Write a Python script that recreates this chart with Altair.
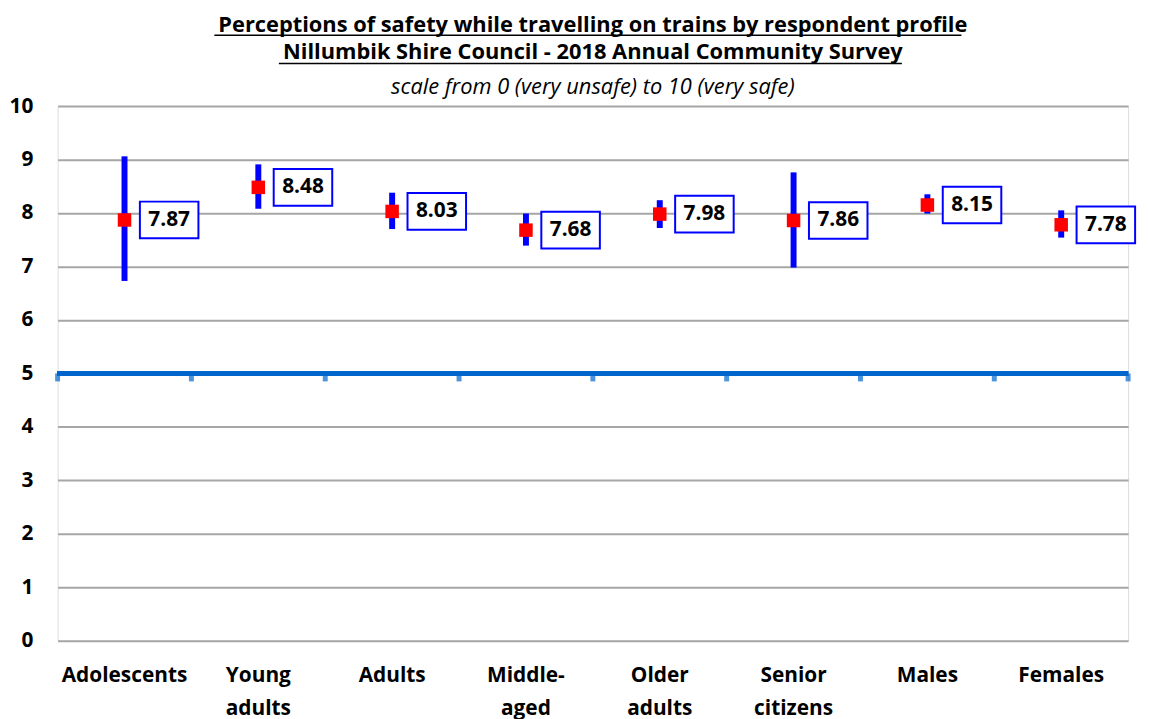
import altair as alt
import pandas as pd

categories = ["Adolescents", "Young adults", "Adults", "Middle-aged",
              "Older adults", "Senior citizens", "Males", "Females"]
means = [7.87, 8.48, 8.03, 7.68, 7.98, 7.86, 8.15, 7.78]
lows = [6.73, 8.08, 7.70, 7.39, 7.72, 6.98, 7.99, 7.54]
highs = [9.06, 8.91, 8.38, 7.99, 8.24, 8.76, 8.35, 8.05]

title_lines = ["Perceptions of safety while travelling on trains by respondent profile",
               "Nillumbik Shire Council - 2018 Annual  Community Survey"]
subtitle_line = "scale from 0 (very unsafe) to 10 (very safe)"

df = pd.DataFrame({"cat": categories, "mean": means, "lo": lows, "hi": highs})
df["label"] = [f"{m:.2f}" for m in means]

W, H = 1079, 539
FONT = "Open Sans"

xenc = alt.X("cat:N", sort=categories,
             scale=alt.Scale(type="band", paddingInner=0, paddingOuter=0),
             axis=alt.Axis(title=None, domain=False, ticks=False, labelAngle=0,
                           labelFont=FONT, labelFontSize=21, labelFontWeight="bold",
                           labelColor="black", labelPadding=41, labelLineHeight=33,
                           labelBaseline="alphabetic",
                           labelExpr="datum.value == 'Middle-aged' ? ['Middle-', 'aged'] : split(datum.value, ' ')"))
yscale = alt.Scale(domain=[0, 10], nice=False)
yaxis = alt.Axis(title=None, values=list(range(0, 11)), domain=False, ticks=False,
                 grid=True, gridColor="#A6A6A6", gridWidth=2,
                 labelFont=FONT, labelFontSize=21, labelFontWeight="bold",
                 labelColor="black", labelPadding=25)

base = alt.Chart(df)

grid_layer = base.mark_point(opacity=0).encode(
    x=xenc, y=alt.Y("mean:Q", scale=yscale, axis=yaxis))

baseline = base.mark_rule(color="#0066CC", strokeWidth=5).encode(
    y=alt.datum(5), x=alt.value(0), x2=alt.value(W))

ticks = base.mark_tick(orient="vertical", size=8, thickness=5, color="#0066CC",
                       yOffset=4).encode(
    x=alt.X("cat:N", sort=categories, bandPosition=0), y=alt.datum(5))

end_tick = alt.Chart(df.tail(1)).mark_tick(orient="vertical", size=8, thickness=5,
                                           color="#0066CC", yOffset=4).encode(
    x=alt.X("cat:N", sort=categories, bandPosition=1), y=alt.datum(5))

bars = base.mark_rule(color="#0000FF", strokeWidth=6).encode(
    x=alt.X("cat:N", sort=categories), y="lo:Q", y2="hi:Q")

points = base.mark_square(color="#FF0000", opacity=1, size=185).encode(
    x=alt.X("cat:N", sort=categories), y="mean:Q")

boxes = base.mark_rect(width=59, height=37, xOffset=45, fill="white",
                       stroke="#0000FF", strokeWidth=2).encode(
    x=alt.X("cat:N", sort=categories), y="mean:Q")

texts = base.mark_text(xOffset=45, font=FONT, fontSize=21, fontWeight="bold",
                       color="black", baseline="middle", align="center").encode(
    x=alt.X("cat:N", sort=categories), y="mean:Q", text="label:N")

# Title block drawn as text above the plot area (offsets in pixels from plot top)
title_df = pd.DataFrame({"t": title_lines})
t1 = alt.Chart(title_df.iloc[[0]]).mark_text(
    font=FONT, fontSize=22, fontWeight="bold", color="black", align="center",
    baseline="alphabetic").encode(text="t:N", x=alt.value(W / 2), y=alt.value(-75))
t2 = alt.Chart(title_df.iloc[[1]]).mark_text(
    font=FONT, fontSize=22, fontWeight="bold", color="black", align="center",
    baseline="alphabetic").encode(text="t:N", x=alt.value(W / 2), y=alt.value(-47))
sub_df = pd.DataFrame({"t": [subtitle_line]})
t3 = alt.Chart(sub_df).mark_text(
    font=FONT, fontSize=22, fontStyle="italic", color="black", align="center",
    baseline="alphabetic").encode(text="t:N", x=alt.value(W / 2), y=alt.value(-12))
u1 = alt.Chart(title_df.iloc[[0]]).mark_rule(color="black", strokeWidth=1.5).encode(
    x=alt.value(158), x2=alt.value(911), y=alt.value(-71.5))
u2 = alt.Chart(title_df.iloc[[1]]).mark_rule(color="black", strokeWidth=1.5).encode(
    x=alt.value(223), x2=alt.value(851), y=alt.value(-43))

chart = alt.layer(grid_layer, baseline, ticks, end_tick, bars, points, boxes, texts,
                  t1, t2, t3, u1, u2).properties(
    width=W, height=H,
    padding={"left": 0, "top": 3, "right": 4, "bottom": 5},
).configure_view(stroke=None).configure(background="white")

chart.save("out.html", embed_options={"renderer": "svg", "actions": False})
